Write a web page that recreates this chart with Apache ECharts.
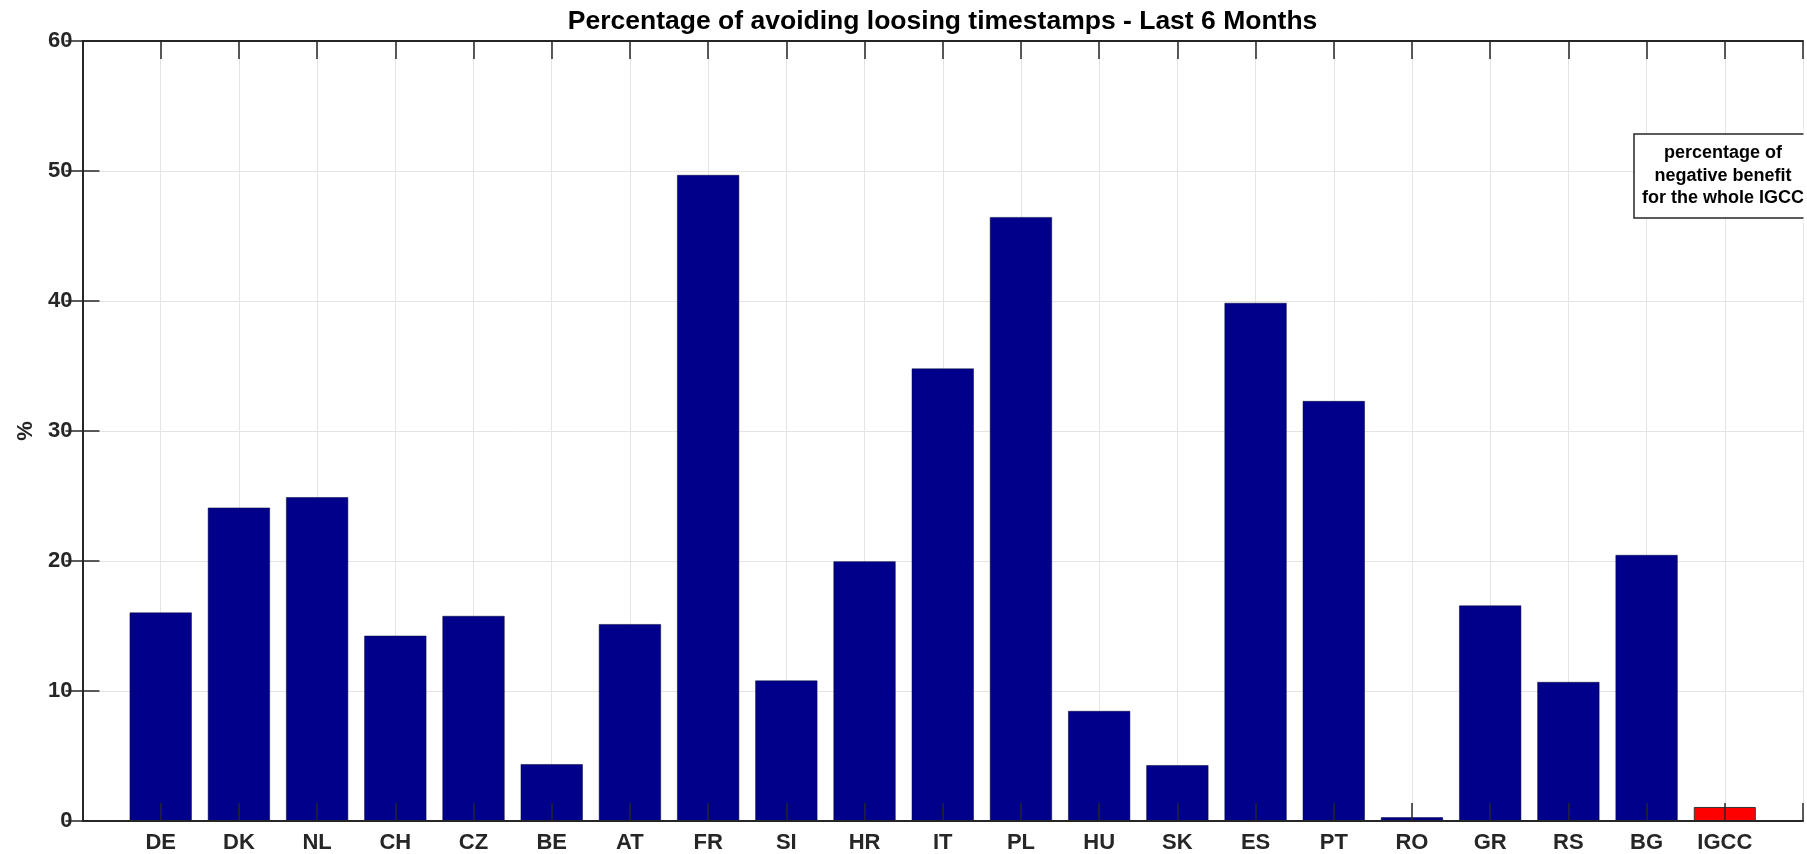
<!DOCTYPE html>
<html>
<head>
<meta charset="utf-8">
<script src="https://cdn.jsdelivr.net/npm/echarts@6/dist/echarts.min.js"></script>
<style>
html,body{margin:0;padding:0;background:#fff;}
#chart{width:1807px;height:854px;}
</style>
</head>
<body>
<div id="chart"></div>
<script>
const categories = ['DE','DK','NL','CH','CZ','BE','AT','FR','SI','HR','IT','PL','HU','SK','ES','PT','RO','GR','RS','BG','IGCC'];
const values = [16.03, 24.1, 24.9, 14.25, 15.77, 4.37, 15.14, 49.69, 10.8, 19.97, 34.8, 46.45, 8.46, 4.29, 39.85, 32.3, 0.28, 16.57, 10.69, 20.46, 1.08];
const yTicks = [0, 10, 20, 30, 40, 50, 60];
const titleText = 'Percentage of avoiding loosing timestamps - Last 6 Months';
const noteLines = ['percentage of', 'negative benefit', 'for the whole IGCC'];

const FONT = '"Liberation Sans", Arial, Helvetica, sans-serif';
const DARK = '#262626';
const chart = echarts.init(document.getElementById('chart'), null, {renderer: 'canvas'});

const xMax = categories.length + 1;
const seriesData = categories.map((c, i) => ({
  value: [i + 1, values[i]],
  itemStyle: c === 'IGCC' ? {color: '#ff0000', borderColor: '#333333', borderWidth: 1} : undefined
}));

const tickOnlyX = (pos, z) => ({
  type: 'value', position: pos, min: 0, max: xMax, interval: 1, gridIndex: 0, z: z,
  axisLine: {show: true, lineStyle: {color: DARK, width: 2}},
  axisTick: {show: true, inside: true, length: 18, lineStyle: {color: DARK, width: 1.5}},
  axisLabel: {show: false}, splitLine: {show: false}
});

const option = {
  animation: false,
  backgroundColor: '#ffffff',
  grid: {left: 82.5, right: 4, top: 41, bottom: 32.3, containLabel: false},
  xAxis: [
    {
      type: 'value', position: 'bottom', min: 0, max: xMax, interval: 1, z: 0,
      axisLine: {show: false},
      axisTick: {show: false},
      splitLine: {show: true, lineStyle: {color: '#e4e4e4', width: 1}},
      axisLabel: {
        show: true, margin: 11, color: DARK, fontFamily: FONT, fontWeight: 'bold', fontSize: 22,
        showMinLabel: false, showMaxLabel: false,
        formatter: v => (Number.isInteger(v) && v >= 1 && v <= categories.length) ? categories[v - 1] : ''
      }
    },
    tickOnlyX('bottom', 5),
    tickOnlyX('top', 5)
  ],
  yAxis: [
    {
      type: 'value', position: 'left', min: 0, max: 60, interval: 10, z: 0,
      name: '%', nameLocation: 'middle', nameGap: 46, nameRotate: 90,
      nameTextStyle: {color: DARK, fontFamily: FONT, fontWeight: 'bold', fontSize: 22},
      axisLine: {show: true, lineStyle: {color: '#808080', width: 1.5}},
      axisTick: {show: true, inside: true, length: 17, lineStyle: {color: DARK, width: 1.5}},
      splitLine: {show: true, lineStyle: {color: '#e4e4e4', width: 1}},
      axisLabel: {
        show: true, margin: 10, color: DARK, fontFamily: FONT, fontWeight: 'bold', fontSize: 22,
        formatter: v => yTicks.includes(v) ? String(v) : ''
      }
    },
    {
      type: 'value', position: 'right', min: 0, max: 60, interval: 10, z: 10,
      axisLine: {show: true, lineStyle: {color: DARK, width: 2}},
      axisTick: {show: true, inside: true, length: 17, lineStyle: {color: DARK, width: 1.5}},
      splitLine: {show: false},
      axisLabel: {show: false}
    }
  ],
  series: [{
    type: 'bar',
    xAxisIndex: 0, yAxisIndex: 0,
    barWidth: 62,
    z: 2,
    itemStyle: {color: '#00008b', borderColor: '#000033', borderWidth: 0.5},
    data: seriesData
  }],
  graphic: [
    {
      type: 'text', x: 942.6, y: 8, z: 20,
      style: {text: titleText, fill: '#000000', font: 'bold 26.5px ' + FONT, textAlign: 'center', textVerticalAlign: 'top'}
    },
    {
      type: 'rect', z: 5, shape: {x: 1634, y: 134, width: 200, height: 84},
      style: {fill: '#ffffff', stroke: DARK, lineWidth: 1.5}
    },
    {
      type: 'text', x: 1723, y: 176, z: 6,
      style: {text: noteLines.join('\n'), fill: '#000000', font: 'bold 18px ' + FONT,
        textAlign: 'center', textVerticalAlign: 'middle', lineHeight: 22.5}
    },
    {
      type: 'rect', z: 7, shape: {x: 1803.5, y: 128, width: 10, height: 95},
      style: {fill: '#ffffff'}
    }
  ]
};
chart.setOption(option);
</script>
</body>
</html>
